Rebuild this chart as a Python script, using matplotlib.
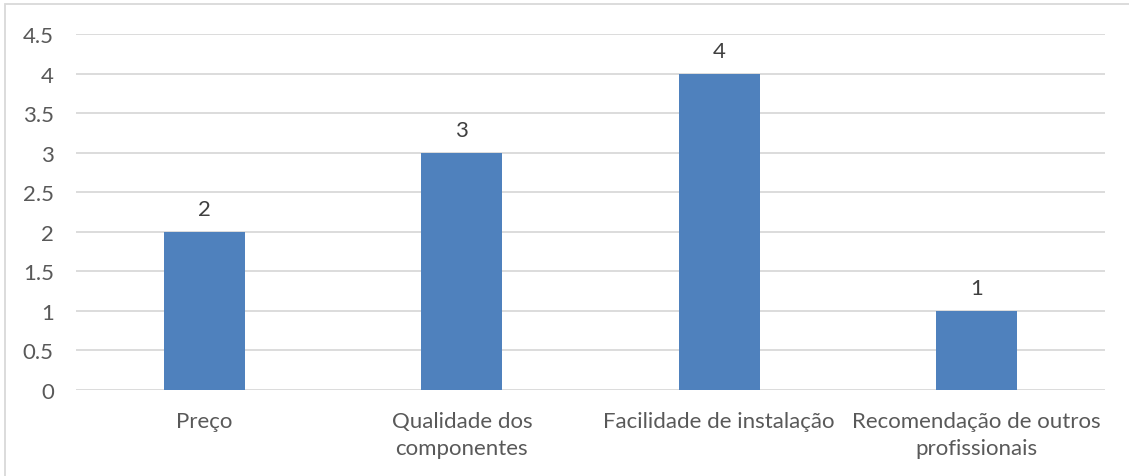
import matplotlib.pyplot as plt
from matplotlib.patches import Rectangle

categories = ['Preço', 'Qualidade dos\ncomponentes', 'Facilidade de instalação',
              'Recomendação de outros\nprofissionais']
values = [2, 3, 4, 1]
yticks = [0, 0.5, 1, 1.5, 2, 2.5, 3, 3.5, 4, 4.5]
ytick_labels = ['0', '0.5', '1', '1.5', '2', '2.5', '3', '3.5', '4', '4.5']

plt.rcParams['font.family'] = ['Lato', 'DejaVu Sans']
text_color = '#595959'

fig = plt.figure(figsize=(11.29, 4.77), dpi=100)
ax = fig.add_axes([76 / 1129, 1 - 391 / 477, 1029 / 1129, 356 / 477])

x = range(len(categories))
bars = ax.bar(x, values, width=0.315, color='#4F81BD', zorder=3)
for rect, v in zip(bars, values):
    ax.annotate(str(v), (rect.get_x() + rect.get_width() / 2, v),
                xytext=(0, 9), textcoords='offset points',
                ha='center', va='bottom', fontsize=16, color='#404040')

ax.set_xlim(-0.5, len(categories) - 0.5)
ax.set_ylim(0, 4.5)
ax.set_yticks(yticks)
ax.set_yticklabels(ytick_labels)
ax.set_xticks(list(x))
ax.set_xticklabels(categories, linespacing=1.45)
ax.tick_params(axis='both', length=0, labelsize=16, labelcolor=text_color)
ax.tick_params(axis='y', pad=16)
ax.tick_params(axis='x', pad=15)
ax.grid(axis='y', color='#D9D9D9', linewidth=1.3, zorder=0)
for s in ax.spines.values():
    s.set_visible(False)

# chart area border
fig.patches.append(Rectangle((5 / 1129, -0.1), 1.2, 1 - 5 / 477 + 0.1,
                             transform=fig.transFigure, fill=False,
                             edgecolor='#D9D9D9', linewidth=1.3))

plt.savefig('out.png', dpi=100)
plt.close()
